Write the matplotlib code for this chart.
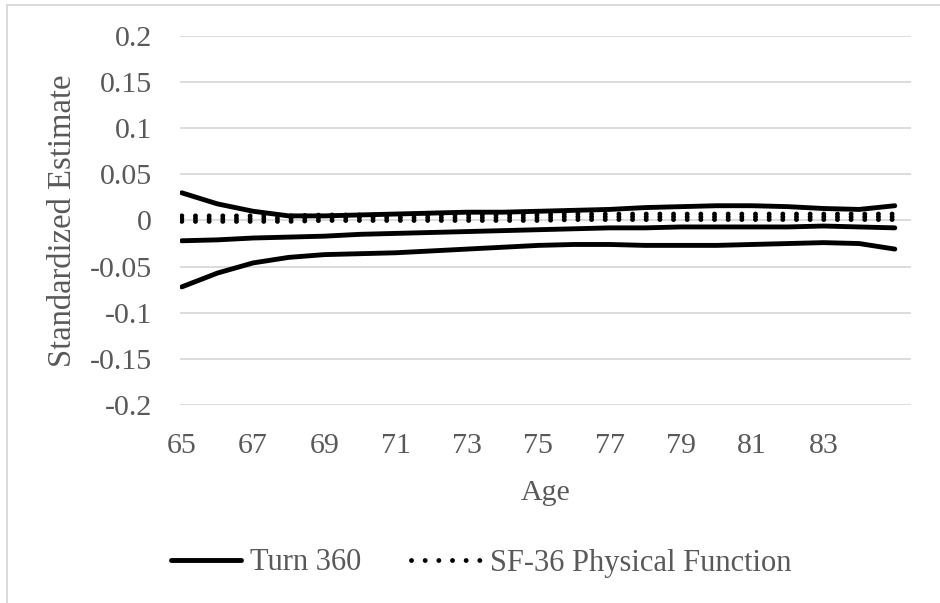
import matplotlib
matplotlib.use("Agg")
import matplotlib.pyplot as plt
from matplotlib.patches import Rectangle

plt.rcParams['font.family'] = ['Liberation Serif', 'DejaVu Serif']
TEXT = '#595959'
GRID = '#D9D9D9'
FONT_SIZE = 21.5

ages = list(range(65, 86))
tick_ages = list(range(65, 85, 2))
y_ticks = [-0.2, -0.15, -0.1, -0.05, 0, 0.05, 0.1, 0.15, 0.2]
y_labels = ['-0.2', '-0.15', '-0.1', '-0.05', '0', '0.05', '0.1', '0.15', '0.2']

# Turn 360: estimate with upper/lower bounds
turn_upper = [0.030, 0.018, 0.010, 0.005, 0.005, 0.006, 0.007, 0.008, 0.009, 0.009, 0.010,
              0.011, 0.012, 0.014, 0.015, 0.016, 0.016, 0.015, 0.013, 0.012, 0.016]
turn_est = [-0.022, -0.021, -0.019, -0.018, -0.017, -0.015, -0.014, -0.013, -0.012, -0.011, -0.010,
            -0.009, -0.008, -0.008, -0.007, -0.007, -0.007, -0.007, -0.006, -0.007, -0.008]
turn_lower = [-0.072, -0.057, -0.046, -0.040, -0.037, -0.036, -0.035, -0.033, -0.031, -0.029, -0.027,
              -0.026, -0.026, -0.027, -0.027, -0.027, -0.026, -0.025, -0.024, -0.025, -0.031]

# SF-36 Physical Function: estimate with upper/lower bounds
sf_upper = [0.005, 0.005, 0.005, 0.005, 0.006, 0.006, 0.006, 0.006, 0.006, 0.006, 0.006,
            0.007, 0.007, 0.007, 0.007, 0.007, 0.007, 0.007, 0.007, 0.007, 0.007]
sf_est = [0.002, 0.002, 0.002, 0.002, 0.003, 0.003, 0.003, 0.003, 0.003, 0.003, 0.003,
          0.004, 0.004, 0.004, 0.004, 0.004, 0.004, 0.004, 0.004, 0.004, 0.004]
sf_lower = [-0.001, -0.001, -0.001, -0.001, 0.000, 0.000, 0.000, 0.000, 0.000, 0.000, 0.000,
            0.001, 0.001, 0.001, 0.001, 0.001, 0.001, 0.001, 0.001, 0.001, 0.001]

fig = plt.figure(figsize=(9.4, 6.03), dpi=100)
ax = fig.add_axes([0.1915, 0.3284, 0.7775, 0.6119])

# chart area border (cropped on right/bottom)
fig.patches.append(Rectangle((7 / 940, -0.1), 1.2, 1 - 5 / 603 + 0.1, transform=fig.transFigure,
                             fill=False, edgecolor=GRID, linewidth=1.3))

lw = 3.5
for i, ys in enumerate([turn_upper, turn_est, turn_lower]):
    ax.plot(ages, ys, color='black', linewidth=lw, solid_capstyle='round', solid_joinstyle='round',
            label='Turn 360' if i == 0 else None)
for i, ys in enumerate([sf_upper, sf_est, sf_lower]):
    ax.plot(ages, ys, color='black', linewidth=lw, dashes=(0.01, 2.8), dash_capstyle='round',
            label='SF-36 Physical Function' if i == 0 else None)

ax.set_xlim(64.95, 85.45)
ax.set_ylim(-0.2, 0.2)
ax.set_xticks(tick_ages)
ax.set_yticks(y_ticks, y_labels)
ax.grid(axis='y', color=GRID, linewidth=1.3)
ax.set_axisbelow(True)
for s in ax.spines.values():
    s.set_visible(False)
ax.tick_params(length=0, labelsize=FONT_SIZE, labelcolor=TEXT)
ax.tick_params(axis='y', pad=20)
ax.tick_params(axis='x', pad=20)

ax.set_ylabel('Standardized Estimate', fontsize=23.5, color=TEXT, labelpad=9)
ax.set_xlabel('Age', fontsize=FONT_SIZE, color=TEXT, labelpad=15)

leg = fig.legend(loc='center', bbox_to_anchor=(0.512, 1 - 563 / 603), ncol=2, frameon=False,
                 fontsize=22, handlelength=2.3, handletextpad=0.3, columnspacing=1.6)
for t in leg.get_texts():
    t.set_color(TEXT)

fig.savefig('out.png', dpi=100)
